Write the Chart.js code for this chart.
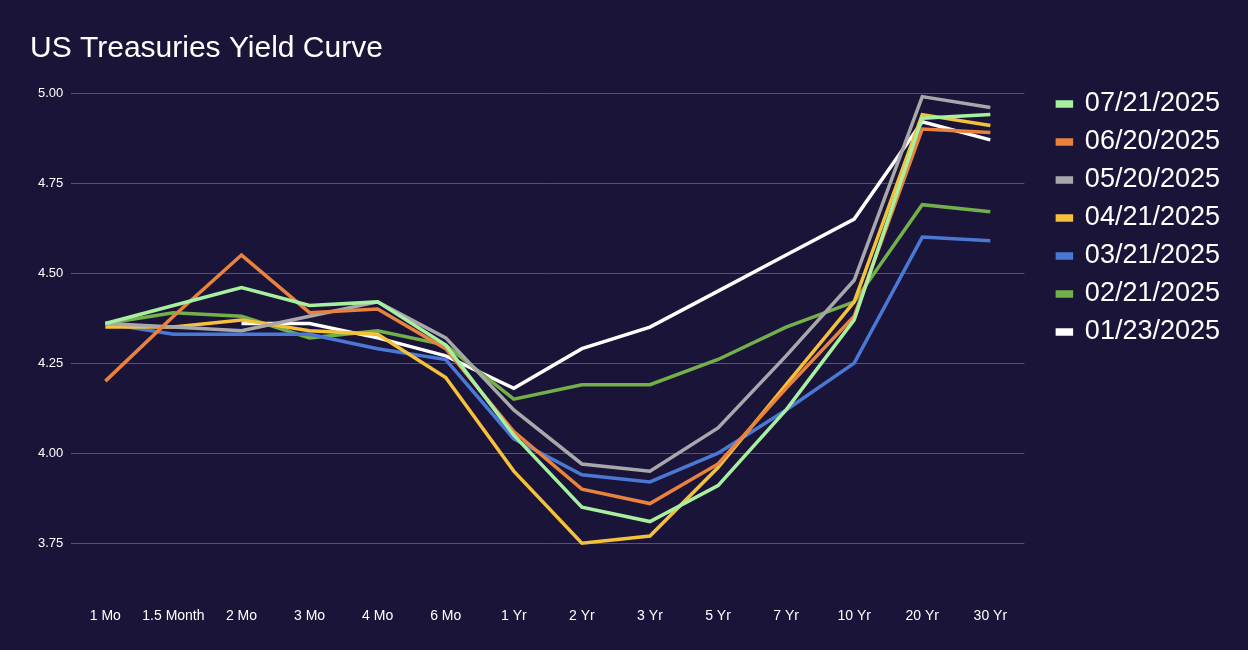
<!DOCTYPE html>
<html><head><meta charset="utf-8">
<script src="https://cdn.jsdelivr.net/npm/chart.js@4"></script>
<style>html,body{margin:0;background:#1a1538;}#w{width:1248px;height:650px;position:relative}</style>
</head><body><div id="w"><canvas id="c"></canvas></div>
<script>
const categories=["1 Mo","1.5 Month","2 Mo","3 Mo","4 Mo","6 Mo","1 Yr","2 Yr","3 Yr","5 Yr","7 Yr","10 Yr","20 Yr","30 Yr"];
const yTicks=[3.75,4.00,4.25,4.50,4.75,5.00];
const s0721=[4.36,4.41,4.46,4.41,4.42,4.30,4.05,3.85,3.81,3.91,4.12,4.37,4.93,4.94];
const s0620=[4.20,4.38,4.55,4.39,4.40,4.29,4.06,3.90,3.86,3.97,4.18,4.38,4.90,4.89];
const s0520=[4.36,4.35,4.34,4.38,4.42,4.32,4.12,3.97,3.95,4.07,4.27,4.48,4.99,4.96];
const s0421=[4.35,4.35,4.37,4.34,4.33,4.21,3.95,3.75,3.77,3.96,4.19,4.42,4.94,4.91];
const s0321=[4.36,4.33,4.33,4.33,4.29,4.26,4.04,3.94,3.92,4.00,4.12,4.25,4.60,4.59];
const s0221=[4.36,4.39,4.38,4.32,4.34,4.30,4.15,4.19,4.19,4.26,4.35,4.42,4.69,4.67];
const s0123=[null,null,4.36,4.36,4.32,4.27,4.18,4.29,4.35,4.45,4.55,4.65,4.92,4.87];
const mk=(l,d,c)=>({label:l,data:d,borderColor:c,backgroundColor:c,borderWidth:3.5,pointRadius:0,tension:0,spanGaps:false});
const GAP=22;
const legendShift={id:'legendShift',
beforeUpdate(ch){const l=ch.legend;if(l&&!l._p){const f=l.fit;l.fit=function(){f.apply(this,arguments);this.width+=GAP;};l._p=true;}},
afterLayout(ch){const l=ch.legend;if(l){l.left+=GAP;}}};
new Chart(document.getElementById('c'),{type:'line',plugins:[legendShift],
data:{labels:categories,datasets:[
mk("07/21/2025",s0721,"#a6f0a0"),mk("06/20/2025",s0620,"#e8823e"),mk("05/20/2025",s0520,"#a8a8ab"),
mk("04/21/2025",s0421,"#f5c13a"),mk("03/21/2025",s0321,"#4a78d4"),mk("02/21/2025",s0221,"#73b04a"),mk("01/23/2025",s0123,"#ffffff")]},
options:{responsive:true,maintainAspectRatio:false,animation:false,
layout:{padding:{left:30,right:18,top:8,bottom:22}},
plugins:{title:{display:true,text:"US Treasuries Yield Curve",align:'start',color:'#fff',font:{family:'Liberation Sans',size:30,weight:'normal'},padding:{top:23,bottom:26}},
legend:{position:'right',align:'start',title:{display:true,text:' ',padding:{top:57}},
labels:{color:'#fff',font:{family:'Liberation Sans',size:27},boxWidth:14,boxHeight:4,padding:11}}},
scales:{x:{offset:true,grid:{display:false},border:{display:false},ticks:{color:'#fff',font:{family:'Liberation Sans',size:14},maxRotation:0,autoSkip:false,padding:3}},
y:{min:3.6,max:5.0,afterBuildTicks:a=>{a.ticks=yTicks.map(v=>({value:v}));},
grid:{color:'#55527a',lineWidth:1,drawTicks:false},border:{display:false},
ticks:{color:'#fff',font:{family:'Liberation Sans',size:13},padding:8,callback:v=>v.toFixed(2)}}}}});
</script></body></html>
